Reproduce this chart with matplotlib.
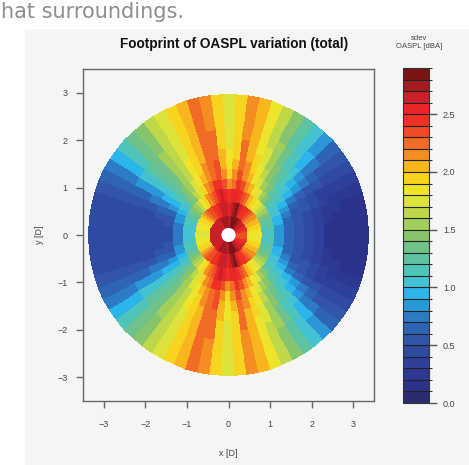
import numpy as np
import matplotlib
matplotlib.use("Agg")
import matplotlib.pyplot as plt
from matplotlib.colors import ListedColormap, BoundaryNorm
from matplotlib.patches import Rectangle, Ellipse
from matplotlib.cm import ScalarMappable

# ---------------- data ----------------
# sector centres (deg) for the upper half; lower half is the mirror image
theta_upper = list(range(0, 181, 5))
# ring edges in D (x-units)
r_edges = [0.17, 0.48, 0.82, 1.13, 1.37, 1.61, 1.85, 2.09, 2.33, 2.57, 2.81, 3.05, 3.37]

ring0 = [2.3, 2.3, 2.35, 2.4, 2.45, 2.5, 2.55, 2.6, 2.6, 2.65, 2.65, 2.7, 2.75, 2.8, 2.85, 2.9, 2.85, 2.7, 2.65,
         2.7, 2.75, 2.75, 2.7, 2.7, 2.7, 2.65, 2.65, 2.65, 2.6, 2.6, 2.6, 2.6, 2.6, 2.6, 2.6, 2.6, 2.6]
ring1 = [1.8, 1.8, 1.85, 1.9, 1.95, 2.0, 2.05, 2.1, 2.15, 2.2, 2.3, 2.4, 2.45, 2.55, 2.65, 2.8, 2.7, 2.6, 2.5,
         2.6, 2.65, 2.6, 2.5, 2.45, 2.4, 2.35, 2.3, 2.2, 2.1, 2.0, 1.95, 1.9, 1.85, 1.8, 1.8, 1.75, 1.75]
ring2 = [1.15, 1.15, 1.15, 1.2, 1.25, 1.3, 1.4, 1.5, 1.6, 1.7, 1.8, 1.95, 2.05, 2.2, 2.3, 2.45, 2.55, 2.5, 2.4,
         2.5, 2.6, 2.5, 2.35, 2.25, 2.1, 1.95, 1.8, 1.65, 1.5, 1.4, 1.3, 1.2, 1.15, 1.1, 1.05, 1.05, 1.05]
ring3 = [0.85, 0.85, 0.85, 0.9, 0.95, 1.0, 1.05, 1.15, 1.25, 1.4, 1.55, 1.7, 1.85, 2.0, 2.15, 2.3, 2.4, 2.25, 2.1,
         2.3, 2.45, 2.4, 2.25, 2.1, 1.9, 1.75, 1.6, 1.45, 1.3, 1.15, 1.05, 0.95, 0.85, 0.8, 0.75, 0.75, 0.75]
ring4 = [0.6, 0.6, 0.62, 0.65, 0.7, 0.8, 0.9, 1.0, 1.1, 1.25, 1.4, 1.55, 1.7, 1.85, 2.0, 2.15, 2.3, 2.1, 1.95,
         2.15, 2.35, 2.25, 2.1, 2.0, 1.85, 1.7, 1.55, 1.4, 1.25, 1.1, 0.95, 0.8, 0.65, 0.55, 0.5, 0.48, 0.48]
ring5 = [0.5, 0.5, 0.5, 0.52, 0.55, 0.65, 0.75, 0.9, 1.0, 1.15, 1.3, 1.45, 1.6, 1.8, 1.95, 2.1, 2.25, 2.0, 1.85,
         2.05, 2.3, 2.25, 2.1, 1.95, 1.8, 1.65, 1.5, 1.35, 1.2, 1.05, 0.9, 0.75, 0.6, 0.5, 0.45, 0.45, 0.45]
ring6 = [0.45, 0.45, 0.45, 0.47, 0.5, 0.55, 0.65, 0.8, 0.95, 1.1, 1.25, 1.4, 1.55, 1.75, 1.9, 2.05, 2.2, 1.95, 1.8,
         2.0, 2.25, 2.25, 2.05, 1.95, 1.8, 1.65, 1.5, 1.35, 1.2, 1.0, 0.85, 0.7, 0.55, 0.48, 0.45, 0.42, 0.42]
ring7 = [0.3, 0.3, 0.3, 0.33, 0.4, 0.45, 0.55, 0.7, 0.85, 1.0, 1.15, 1.35, 1.5, 1.7, 1.85, 2.05, 2.2, 1.92, 1.75,
         1.95, 2.2, 2.25, 2.05, 1.92, 1.78, 1.63, 1.5, 1.35, 1.2, 1.0, 0.8, 0.65, 0.55, 0.47, 0.43, 0.42, 0.42]
ring8 = [0.18, 0.18, 0.2, 0.22, 0.3, 0.38, 0.5, 0.6, 0.75, 0.95, 1.1, 1.3, 1.5, 1.65, 1.85, 2.02, 2.15, 1.92, 1.72,
         1.92, 2.2, 2.25, 2.05, 1.92, 1.78, 1.63, 1.5, 1.35, 1.2, 1.0, 0.8, 0.65, 0.52, 0.45, 0.42, 0.4, 0.4]
ring9 = [0.14, 0.14, 0.15, 0.2, 0.25, 0.33, 0.45, 0.55, 0.7, 0.9, 1.05, 1.25, 1.45, 1.65, 1.8, 2.0, 2.15, 1.9, 1.72,
         1.92, 2.18, 2.25, 2.05, 1.92, 1.78, 1.62, 1.48, 1.32, 1.18, 0.98, 0.78, 0.62, 0.5, 0.45, 0.42, 0.4, 0.4]
ring10 = [0.12, 0.12, 0.13, 0.17, 0.22, 0.3, 0.42, 0.52, 0.65, 0.85, 1.02, 1.22, 1.42, 1.62, 1.8, 2.0, 2.15, 1.9, 1.7,
          1.9, 2.18, 2.25, 2.05, 1.9, 1.75, 1.6, 1.45, 1.3, 1.15, 0.95, 0.75, 0.6, 0.5, 0.45, 0.42, 0.4, 0.4]
ring11 = [0.12, 0.12, 0.12, 0.15, 0.2, 0.3, 0.4, 0.5, 0.6, 0.8, 1.0, 1.2, 1.4, 1.6, 1.8, 2.0, 2.15, 1.9, 1.7,
          1.9, 2.15, 2.25, 2.05, 1.9, 1.75, 1.6, 1.45, 1.3, 1.15, 0.95, 0.75, 0.6, 0.5, 0.45, 0.42, 0.4, 0.4]

rings = [ring0, ring1, ring2, ring3, ring4, ring5, ring6, ring7, ring8, ring9, ring10, ring11]

x_ticks = [-3, -2, -1, 0, 1, 2, 3]
y_ticks = [-3, -2, -1, 0, 1, 2, 3]
cbar_ticks = [0.0, 0.5, 1.0, 1.5, 2.0, 2.5]
levels = np.round(np.arange(0, 2.95, 0.1), 2)

# ---------------- style ----------------
colors = ['#2a2b70', '#2c318a', '#2d3893', '#2e409a', '#2f4aa1', '#3055a9', '#2e64b4', '#2c7bc4',
          '#2a98d8', '#2cb5ea', '#45c2d2', '#4fc4b8', '#5dc3a0', '#6fc289', '#86c46e', '#a2ce5c',
          '#bfd84a', '#dce33a', '#eee52b', '#f6d41f', '#f7b51e', '#f48e22', '#f16c24', '#ef4d25',
          '#ee3124', '#ea2727', '#cc2028', '#a61b1f', '#7b1416']
cmap = ListedColormap(colors)
norm = BoundaryNorm(levels, cmap.N)

plt.rcParams['font.family'] = ['Liberation Sans', 'DejaVu Sans']

W, H = 469, 465
fig = plt.figure(figsize=(W / 100, H / 100), dpi=100)
fig.patch.set_facecolor('white')
fig.patches.append(Rectangle((25 / W, 0), 1 - 25 / W, (H - 29) / H, transform=fig.transFigure,
                             facecolor='#f4f5f5', edgecolor='none', zorder=-10))

fig.text(1 / W, 1 - 18 / H, "hat surroundings.", fontsize=15, color='#8e8e8e',
         family=['DejaVu Sans'], va='baseline', ha='left')

ax = fig.add_axes([83 / W, (H - 401) / H, 291 / W, 332 / H])
ax.set_facecolor('#f4f5f5')
ax.set_xlim(-3.5, 3.5)
ax.set_ylim(-3.5, 3.5)

# y-direction stretch so the footprint appears round on the non-square axes
y_stretch = (291 / 7) / (332 / 7)

# full 360 deg from mirrored upper half
full_vals = np.array([r + r[-2:0:-1] for r in rings])  # (12, 72)
th_edges = np.deg2rad(np.arange(-2.5, 360, 5.0))
R, TH = np.meshgrid(np.array(r_edges), th_edges, indexing='ij')
X = R * np.cos(TH)
Y = R * np.sin(TH) * y_stretch
ax.pcolormesh(X, Y, full_vals, cmap=cmap, norm=norm, shading='flat',
              edgecolors='face', linewidth=0.3)
ax.add_patch(Ellipse((0, 0), 2 * r_edges[0], 2 * r_edges[0] * y_stretch, facecolor='white',
                     edgecolor='none', zorder=3))

ax.set_xticks(x_ticks)
ax.set_yticks(y_ticks)
ax.tick_params(direction='out', length=5, width=1, color='#666666', labelsize=6.5,
               labelcolor='#444444')
ax.tick_params(axis='x', pad=9)
ax.tick_params(axis='y', pad=6)
for s in ax.spines.values():
    s.set_color('#666666')
    s.set_linewidth(1)
ax.set_xlabel('x [D]', fontsize=6.5, color='#444444', labelpad=14)
ax.set_ylabel('y [D]', fontsize=6.5, color='#444444', labelpad=10)

fig.text(234 / W, 1 - 44 / H, 'Footprint of OASPL variation (total)', fontsize=9.8,
         fontweight='bold', ha='center', va='center', color='#111111')

cax = fig.add_axes([403 / W, (H - 403) / H, 26 / W, 335 / H])
cb = fig.colorbar(ScalarMappable(norm=norm, cmap=cmap), cax=cax, boundaries=levels,
                  ticks=cbar_ticks, drawedges=True)
cb.outline.set_edgecolor('#333333')
cb.outline.set_linewidth(0.8)
cb.dividers.set_color('#222222')
cb.dividers.set_linewidth(0.8)
cb.ax.set_yticklabels([f'{t:.1f}' for t in cbar_ticks])
cb.ax.tick_params(length=6, width=1, color='#555555', labelsize=6.5, labelcolor='#444444', pad=4)
fig.text(419 / W, 1 - 38 / H, 'sdev', fontsize=5.5, ha='center', va='center', color='#444444')
fig.text(419 / W, 1 - 46 / H, 'OASPL [dBA]', fontsize=5.5, ha='center', va='center', color='#444444')

fig.savefig('out.png', dpi=100)
